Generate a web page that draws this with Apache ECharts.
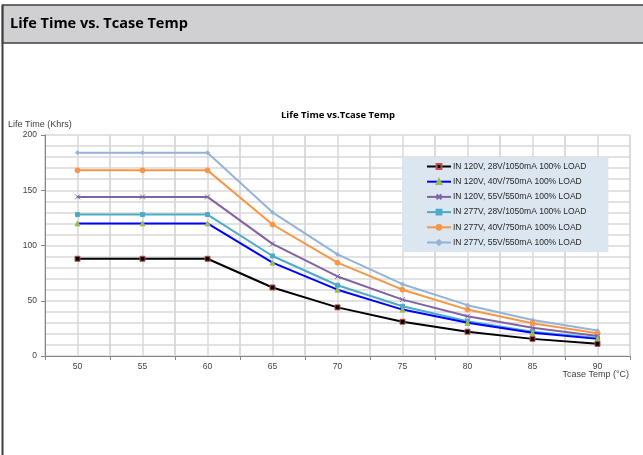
<!DOCTYPE html>
<html><head><meta charset="utf-8">
<script src="https://cdn.jsdelivr.net/npm/echarts@6/dist/echarts.min.js"></script>
<style>html,body{margin:0;padding:0;background:#fff}#c{width:643px;height:455px}</style>
</head><body><div id="c"></div>
<script>
const temps = ['50','55','60','65','70','75','80','85','90'];
const seriesNames = [
  'IN 120V, 28V/1050mA 100% LOAD',
  'IN 120V, 40V/750mA 100% LOAD',
  'IN 120V, 55V/550mA 100% LOAD',
  'IN 277V, 28V/1050mA 100% LOAD',
  'IN 277V, 40V/750mA 100% LOAD',
  'IN 277V, 55V/550mA 100% LOAD'
];
const s120_28 = [88, 88, 88, 62, 44, 31, 22, 15.5, 11];
const s120_40 = [120, 120, 120, 84.5, 60, 42, 30, 21, 15.5];
const s120_55 = [144, 144, 144, 101.5, 72, 51, 36, 25.5, 18];
const s277_28 = [128, 128, 128, 90.5, 64, 45, 31.5, 22, 16.3];
const s277_40 = [168, 168, 168, 119, 84.5, 60, 42, 29.7, 20.5];
const s277_55 = [184, 184, 184, 130, 92, 65, 46, 32.5, 23];
const yTicks = [0, 50, 100, 150, 200];

const chart = echarts.init(document.getElementById('c'), null, {renderer: 'canvas'});
const lab = {fontFamily: '"Liberation Sans", Arial, sans-serif', fontSize: 8.5, color: '#404040'};
const styles = [
  {c: '#000000', sym: 'rect', size: 5, mfill: '#000000', mborder: '#c0504d'},
  {c: '#0000ff', sym: 'triangle', size: 5, mfill: '#9bbb59', mborder: '#9bbb59'},
  {c: '#8064a2', sym: 'path://M0,0L10,10M10,0L0,10', size: 5, mfill: '#8064a2', mborder: '#8064a2'},
  {c: '#4bacc6', sym: 'rect', size: 4, mfill: '#4bacc6', mborder: '#4bacc6'},
  {c: '#f79646', sym: 'circle', size: 5, mfill: '#f79646', mborder: '#f79646'},
  {c: '#95b3d7', sym: 'diamond', size: 4, mfill: '#95b3d7', mborder: '#95b3d7'}
];
const data = [s120_28, s120_40, s120_55, s277_28, s277_40, s277_55];
const series = data.map((d, i) => ({
  name: seriesNames[i], type: 'line', data: d, xAxisIndex: 0, yAxisIndex: 0,
  symbol: styles[i].sym, symbolSize: styles[i].size, showSymbol: true,
  lineStyle: {color: styles[i].c, width: 2},
  itemStyle: {color: styles[i].mfill, borderColor: styles[i].mborder, borderWidth: 1},
  emphasis: {disabled: true}, animation: false, z: 10 - i
}));

chart.setOption({
  animation: false,
  graphic: [
    {type: 'rect', shape: {x: 2.5, y: 5, width: 645, height: 38}, style: {fill: '#d0d0d2', stroke: '#3f3f3f', lineWidth: 1.5}, z: 100},
    {type: 'line', shape: {x1: 2.5, y1: 5, x2: 2.5, y2: 455}, style: {stroke: '#3f3f3f', lineWidth: 2}, z: 100},
    {type: 'text', left: 10, top: 16, style: {text: 'Life Time vs. Tcase Temp', font: 'bold 14.5px "Open Sans", sans-serif', fill: '#000'}, z: 101},
    {type: 'text', left: 8, top: 120, style: {text: 'Life Time (Khrs)', font: '9px "Liberation Sans", Arial, sans-serif', fill: '#404040'}, z: 101},
    {type: 'text', right: 14, top: 370, style: {text: 'Tcase Temp (°C)', font: '9px "Liberation Sans", Arial, sans-serif', fill: '#404040'}, z: 101}
  ],
  title: {text: 'Life Time vs.Tcase Temp', left: 333, textAlign: 'center', top: 105,
    textStyle: {fontFamily: '"Open Sans", sans-serif', fontWeight: 'bold', fontSize: 9.5, color: '#000'}},
  legend: {
    orient: 'vertical', left: 402, top: 157,
    padding: [4, 22, 4, 24], itemGap: 4.2, itemWidth: 24, itemHeight: 6,
    backgroundColor: '#dce6f0',
    textStyle: Object.assign({}, lab, {color: '#262626', padding: [0, 0, 0, -3], lineHeight: 11}),
    data: seriesNames
  },
  grid: {left: 45, right: 13, top: 135, bottom: 99, containLabel: false, outerBoundsMode: 'none'},
  xAxis: [
    {type: 'category', data: temps, boundaryGap: true, position: 'bottom',
      axisLine: {lineStyle: {color: '#868686'}}, axisTick: {show: true, length: 4, lineStyle: {color: '#868686'}},
      axisLabel: Object.assign({}, lab, {margin: 6}),
      splitLine: {show: true, lineStyle: {color: '#d9d9d9', width: 1.5}}},
    {type: 'value', min: 47.5, max: 92.5, interval: 2.5, position: 'bottom', show: true,
      axisLine: {show: false}, axisTick: {show: false}, axisLabel: {show: false},
      splitLine: {show: true, lineStyle: {color: '#d9d9d9', width: 1.5}}}
  ],
  yAxis: {
    type: 'value', min: 0, max: 200, interval: 50,
    axisLine: {show: true, lineStyle: {color: '#868686'}},
    axisTick: {show: true, length: 4, lineStyle: {color: '#868686'}},
    axisLabel: Object.assign({}, lab, {margin: 8, formatter: v => yTicks.includes(v) ? String(v) : ''}),
    splitLine: {show: true, lineStyle: {color: '#d9d9d9', width: 1.5}},
    minorTick: {show: false, splitNumber: 5},
    minorSplitLine: {show: true, lineStyle: {color: '#d9d9d9', width: 1.5}}
  },
  series: series
});
</script></body></html>
